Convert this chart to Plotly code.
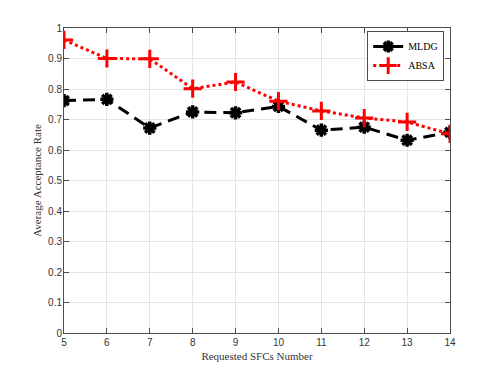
import plotly.graph_objects as go

x_vals = [5, 6, 7, 8, 9, 10, 11, 12, 13, 14]
mldg = [0.762, 0.766, 0.672, 0.725, 0.722, 0.743, 0.665, 0.675, 0.632, 0.658]
absa = [0.961, 0.900, 0.899, 0.801, 0.823, 0.760, 0.728, 0.705, 0.692, 0.653]
y_ticks = [0, 0.1, 0.2, 0.3, 0.4, 0.5, 0.6, 0.7, 0.8, 0.9, 1]
y_tick_text = ["0", "0.1", "0.2", "0.3", "0.4", "0.5", "0.6", "0.7", "0.8", "0.9", "1"]

serif = "Liberation Serif, DejaVu Serif, serif"
sans = "Liberation Sans, Arial, sans-serif"

fig = go.Figure()
fig.add_trace(go.Scatter(
    x=x_vals, y=mldg, mode="lines+markers", name="MLDG", showlegend=False,
    line=dict(color="black", width=3, dash="12px,7px"),
    marker=dict(symbol="asterisk-open", size=11, color="black",
                line=dict(color="black", width=3.5)),
))
fig.add_trace(go.Scatter(
    x=x_vals, y=absa, mode="lines+markers", name="ABSA", showlegend=False,
    line=dict(color="red", width=3, dash="dot"),
    marker=dict(symbol="cross-thin-open", size=13, color="red",
                line=dict(color="red", width=3)),
))
# legend entries
fig.add_trace(go.Scatter(
    x=[None], y=[None], mode="lines+markers", name="MLDG",
    line=dict(color="black", width=3),
    marker=dict(symbol="asterisk-open", size=10, color="black",
                line=dict(color="black", width=3.5)),
))
fig.add_trace(go.Scatter(
    x=[None], y=[None], mode="lines+markers", name="ABSA",
    line=dict(color="red", width=3, dash="dot"),
    marker=dict(symbol="cross-thin-open", size=12, color="red",
                line=dict(color="red", width=3)),
))

axis_common = dict(
    showgrid=True, gridcolor="#e5e5e5", gridwidth=1,
    showline=True, linecolor="#4d4d4d", linewidth=1, mirror="ticks",
    ticks="inside", ticklen=5, tickcolor="#4d4d4d",
    tickfont=dict(family=sans, size=10, color="#333333"),
    zeroline=False,
)

fig.update_layout(
    width=490, height=366,
    margin=dict(l=56, r=48, t=20, b=41),
    paper_bgcolor="white", plot_bgcolor="white",
    xaxis=dict(range=[5, 14], tickvals=x_vals, **axis_common, ticklabelstandoff=0,
               title=dict(text="Requested SFCs Number", standoff=5,
                          font=dict(family=serif, size=11, color="#333333"))),
    yaxis=dict(range=[0, 1], tickvals=y_ticks, ticktext=y_tick_text, **axis_common,
               ticklabelstandoff=-1,
               title=dict(text="Average Acceptance Rate", standoff=4,
                          font=dict(family=serif, size=11, color="#333333"))),
    legend=dict(x=0.985, y=0.99, xanchor="right", yanchor="top",
                bgcolor="white", bordercolor="#4d4d4d", borderwidth=1,
                font=dict(family=serif, size=10, color="black"),
                tracegroupgap=0, itemwidth=30),
    showlegend=True,
)

fig.write_html("out.html")
